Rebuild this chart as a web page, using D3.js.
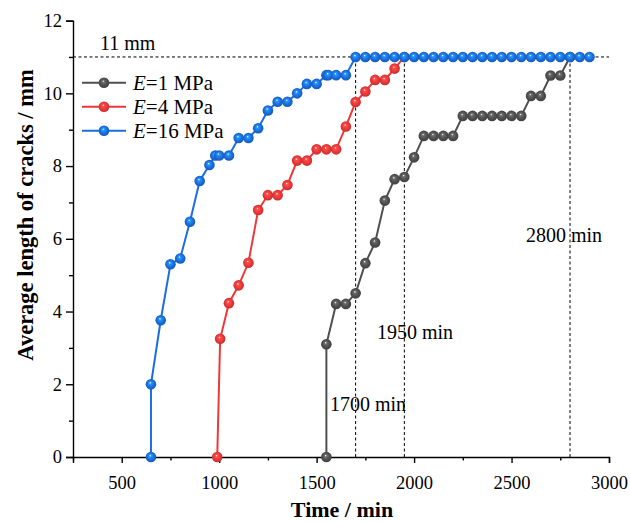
<!DOCTYPE html>
<html>
<head>
<meta charset="utf-8">
<script src="https://cdn.jsdelivr.net/npm/d3@7"></script>
<style>
  html, body { margin: 0; padding: 0; background: #fff; }
  svg { display: block; font-family: "Liberation Serif", "Times New Roman", serif; }
</style>
</head>
<body>
<svg id="chart" width="630" height="522"></svg>
<script>
// Crack growth over time for three elastic moduli
const timeE1 = [1550, 1550, 1600, 1650, 1700, 1750, 1800, 1850, 1900, 1950, 2000, 2050, 2100, 2150, 2200, 2250, 2300, 2350, 2400, 2450, 2500, 2550, 2600, 2650, 2700, 2750, 2800];
const lenE1  = [0, 3.1, 4.21, 4.21, 4.5, 5.33, 5.9, 7.05, 7.64, 7.7, 8.24, 8.83, 8.83, 8.83, 8.83, 9.38, 9.38, 9.38, 9.38, 9.38, 9.38, 9.38, 9.93, 9.93, 10.49, 10.49, 11];

const timeE4 = [990, 1005, 1050, 1100, 1150, 1200, 1250, 1300, 1350, 1400, 1450, 1500, 1550, 1600, 1650, 1700, 1750, 1800, 1850, 1900, 1950];
const lenE4  = [0, 3.25, 4.23, 4.72, 5.34, 6.79, 7.2, 7.2, 7.48, 8.15, 8.15, 8.46, 8.46, 8.46, 9.09, 9.76, 10.05, 10.37, 10.37, 10.68, 11];

const timeE16 = [650, 650, 700, 750, 800, 850, 900, 950, 980, 1000, 1050, 1100, 1150, 1200, 1250, 1300, 1350, 1400, 1450, 1500, 1550, 1560, 1600, 1650, 1700,
                 1750, 1800, 1850, 1900, 1950, 2000, 2050, 2100, 2150, 2200, 2250, 2300, 2350, 2400, 2450, 2500, 2550, 2600, 2650, 2700, 2750, 2800, 2850, 2900];
const lenE16  = [0, 2.0, 3.76, 5.3, 5.46, 6.47, 7.59, 8.03, 8.29, 8.29, 8.29, 8.77, 8.77, 9.04, 9.53, 9.77, 9.77, 10.0, 10.26, 10.26, 10.5, 10.5, 10.5, 10.5, 11,
                 11, 11, 11, 11, 11, 11, 11, 11, 11, 11, 11, 11, 11, 11, 11, 11, 11, 11, 11, 11, 11, 11, 11, 11];

const seriesModuli = ["1", "4", "16"];
const seriesColors = ["#4f4f4f", "#ef3838", "#1b6ee0"];

const xTicks = [500, 1000, 1500, 2000, 2500, 3000];
const xMinor = [250, 750, 1250, 1750, 2250, 2750];
const yTicks = [0, 2, 4, 6, 8, 10, 12];
const yMinor = [1, 3, 5, 7, 9, 11];

const limitLength = 11;                 // mm, final crack length
const reachTimes = [1700, 1950, 2800];  // min, times the series reach the limit

const series = [
  { t: timeE1, v: lenE1 },
  { t: timeE4, v: lenE4 },
  { t: timeE16, v: lenE16 }
];

const svg = d3.select("#chart");
const plotLeft = 73, plotRight = 609, plotTop = 20.6, plotBottom = 457;
const markerR = 5.3;

const x = d3.scaleLinear().domain([250, 3000]).range([plotLeft, plotRight]);
const y = d3.scaleLinear().domain([0, 12]).range([plotBottom, plotTop]);

// sphere-like marker gradients
const defs = svg.append("defs");
seriesColors.forEach((c, i) => {
  const g = defs.append("radialGradient")
    .attr("id", "ball" + i)
    .attr("cx", "50%").attr("cy", "50%").attr("r", "55%")
    .attr("fx", "42%").attr("fy", "35%");
  const base = d3.color(c);
  g.append("stop").attr("offset", "0%").attr("stop-color", "#ffffff");
  g.append("stop").attr("offset", "20%").attr("stop-color", base.brighter(0.9).formatHex());
  g.append("stop").attr("offset", "58%").attr("stop-color", c);
  g.append("stop").attr("offset", "100%").attr("stop-color", base.darker(0.7).formatHex());
});

// reference lines
const refG = svg.append("g").attr("stroke", "#000").attr("stroke-width", 1).attr("stroke-dasharray", "3,2.5");
refG.append("line")
  .attr("x1", x(250)).attr("x2", x(3000))
  .attr("y1", y(limitLength)).attr("y2", y(limitLength));
reachTimes.forEach(t => {
  refG.append("line")
    .attr("x1", x(t)).attr("x2", x(t))
    .attr("y1", y(0)).attr("y2", y(limitLength));
});

// axes
const axisFont = g => g.selectAll("text")
  .attr("font-family", "'Liberation Serif', 'Times New Roman', serif")
  .attr("font-size", 18.5).attr("fill", "#000");

const xAxis = svg.append("g").attr("transform", `translate(0,${plotBottom})`)
  .call(d3.axisBottom(x).tickValues(xTicks).tickSize(6).tickPadding(13).tickFormat(d3.format("d")));
xAxis.call(axisFont);
svg.append("g").attr("transform", `translate(0,${plotBottom})`)
  .call(d3.axisBottom(x).tickValues(xMinor).tickSize(3.5).tickFormat(""))
  .select(".domain").remove();

const yAxis = svg.append("g").attr("transform", `translate(${plotLeft},0)`)
  .call(d3.axisLeft(y).tickValues(yTicks).tickSize(7).tickPadding(4).tickFormat(d3.format("d")));
yAxis.call(axisFont);
svg.append("g").attr("transform", `translate(${plotLeft},0)`)
  .call(d3.axisLeft(y).tickValues(yMinor).tickSize(4).tickFormat(""))
  .select(".domain").remove();

svg.selectAll(".domain").attr("stroke", "#000").attr("stroke-width", 1.4);
svg.selectAll(".tick line").attr("stroke", "#000").attr("stroke-width", 1.4);

// series lines and markers
const line = d3.line().x(d => x(d[0])).y(d => y(d[1]));
series.forEach((s, i) => {
  const pts = s.t.map((t, k) => [t, s.v[k]]);
  const g = svg.append("g");
  g.append("path").datum(pts)
    .attr("d", line).attr("fill", "none")
    .attr("stroke", seriesColors[i]).attr("stroke-width", 2);
  g.selectAll("circle").data(pts).join("circle")
    .attr("cx", d => x(d[0])).attr("cy", d => y(d[1])).attr("r", markerR)
    .attr("fill", `url(#ball${i})`);
});

// annotations
const ann = svg.append("g").attr("font-size", 20).attr("fill", "#000");
ann.append("text").attr("x", 100).attr("y", 50).text(limitLength + " mm");
ann.append("text").attr("x", 330).attr("y", 411).text(reachTimes[0] + " min");
ann.append("text").attr("x", 377).attr("y", 339).text(reachTimes[1] + " min");
ann.append("text").attr("x", 526).attr("y", 242).text(reachTimes[2] + " min");

// legend
const leg = svg.append("g");
seriesModuli.forEach((m, i) => {
  const cy = 82.7 + i * 24;
  leg.append("line").attr("x1", 82).attr("x2", 126).attr("y1", cy).attr("y2", cy)
    .attr("stroke", seriesColors[i]).attr("stroke-width", 2);
  leg.append("circle").attr("cx", 104).attr("cy", cy).attr("r", markerR).attr("fill", `url(#ball${i})`);
  const t = leg.append("text").attr("x", 133).attr("y", cy + 7).attr("font-size", 21);
  t.append("tspan").attr("font-style", "italic").text("E");
  t.append("tspan").text("=" + m + " MPa");
});

// axis titles
svg.append("text")
  .attr("x", (plotLeft + plotRight) / 2 + 1).attr("y", 517)
  .attr("text-anchor", "middle").attr("font-weight", "bold").attr("font-size", 22)
  .text("Time / min");
svg.append("text")
  .attr("transform", "translate(33,215) rotate(-90)")
  .attr("text-anchor", "middle").attr("font-weight", "bold").attr("font-size", 22.5)
  .text("Average length of cracks / mm");
</script>
</body>
</html>
